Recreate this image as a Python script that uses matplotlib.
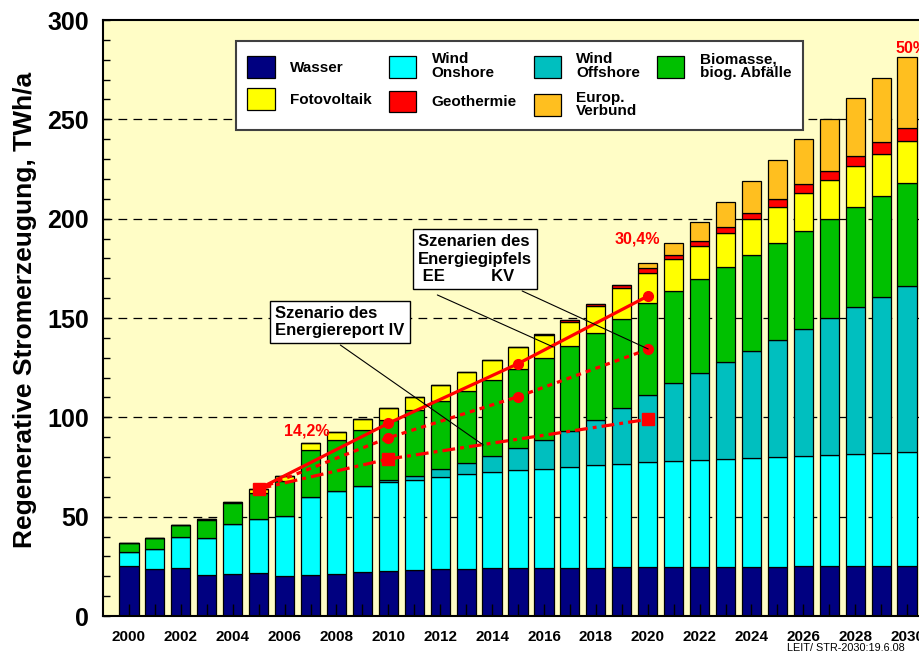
import numpy as np
import matplotlib
matplotlib.use('Agg')
from matplotlib import pyplot as plt
from matplotlib.ticker import MultipleLocator

plt.rcParams['font.family'] = ['Liberation Sans', 'DejaVu Sans']
plt.rcParams['font.weight'] = 'bold'

years = np.arange(2000, 2031)

# TWh/a per source (segment heights, stacked bottom to top)
wasser = [25.2, 23.5, 24.0, 20.6, 21.1, 21.8, 20.1, 20.8, 21.3, 22.1,
          22.6, 23.2, 23.5, 23.8, 24.0, 24.1, 24.2, 24.3, 24.4, 24.5,
          24.6, 24.7, 24.8, 24.8, 24.9, 24.9, 25.0, 25.0, 25.0, 25.1, 25.1]
onshore = [7.2, 10.4, 15.6, 18.7, 25.4, 26.9, 30.4, 39.2, 41.6, 43.2,
           44.8, 45.2, 46.6, 47.7, 48.5, 49.4, 49.8, 50.8, 51.6, 52.2,
           52.9, 53.5, 53.7, 54.2, 54.8, 55.3, 55.5, 56.0, 56.4, 56.8, 57.3]
offshore = [0, 0, 0, 0, 0, 0, 0, 0, 0, 0,
            1.0, 2.2, 3.7, 5.5, 8.2, 11.2, 14.6, 18.0, 22.6, 27.8,
            33.9, 38.9, 44.0, 48.8, 53.7, 58.7, 63.8, 69.0, 73.9, 78.8, 83.8]
biomasse = [4.2, 5.2, 6.0, 9.2, 10.5, 13.4, 17.4, 23.4, 25.5, 28.5,
            30.2, 33.1, 34.6, 36.4, 38.1, 39.6, 41.1, 42.6, 43.7, 45.0,
            46.0, 46.5, 47.1, 47.7, 48.3, 48.7, 49.3, 49.8, 50.4, 50.9, 51.6]
fotovoltaik = [0.0, 0.0, 0.1, 0.2, 0.5, 1.7, 2.4, 3.5, 4.4, 5.3,
               6.2, 6.7, 8.0, 9.4, 10.0, 10.9, 11.6, 12.4, 13.7, 15.7,
               15.4, 15.9, 16.6, 17.1, 17.9, 18.4, 19.1, 19.6, 20.6, 20.9, 21.4]
geothermie = [0, 0, 0, 0, 0, 0, 0, 0, 0, 0,
              0, 0, 0, 0, 0, 0.3, 0.6, 0.9, 1.2, 1.4,
              2.2, 2.2, 2.7, 3.0, 3.5, 3.9, 4.5, 4.7, 5.2, 5.9, 6.2]
verbund = [0, 0, 0, 0, 0, 0, 0, 0, 0, 0,
           0, 0, 0, 0, 0, 0, 0, 0, 0, 0,
           2.5, 6.2, 9.4, 12.8, 16.0, 19.4, 22.7, 26.2, 29.0, 32.5, 35.8]

series = [wasser, onshore, offshore, biomasse, fotovoltaik, geothermie, verbund]
labels = ['Wasser', 'Wind\nOnshore', 'Wind\nOffshore', 'Biomasse,\nbiog. Abfälle',
          'Fotovoltaik', 'Geothermie', 'Europ.\nVerbund']
colors = ['#000080', '#00FFFF', '#00BFBF', '#00C000', '#FFFF00', '#FF0000', '#FFBF1F']
# legend is filled column by column: Wasser/Fotovoltaik, Onshore/Geothermie, ...
legend_order = [0, 4, 1, 5, 2, 6, 3]

# scenario lines
ee_years = [2005, 2010, 2015, 2020]
ee_vals = [64, 97, 127, 161]
kv_years = [2005, 2010, 2015, 2020]
kv_vals = [64, 89.7, 110.4, 134.2]
er_years = [2005, 2010, 2020]
er_vals = [64, 79, 99]

fig = plt.figure(figsize=(9.2, 6.6), dpi=100)
ax = fig.add_axes([103/920, 44/660, 830/920, 596/660])
ax.set_facecolor('#FFFDC6')

bottom = np.zeros(len(years))
handles = []
for vals, lab, col in zip(series, labels, colors):
    vals = np.array(vals, dtype=float)
    b = ax.bar(years, vals, width=0.74, bottom=bottom, color=col,
               edgecolor='black', linewidth=0.9, label=lab, zorder=1)
    handles.append(b)
    bottom += vals

for g in [50, 100, 150, 200, 250]:
    ax.axhline(g, color='black', lw=0.9, dashes=(7, 5), zorder=0.5)

# scenario lines
ax.plot(ee_years, ee_vals, color='#FF0000', lw=2.3, marker='o', ms=7,
        markevery=[1, 2, 3], zorder=3)
ax.plot(kv_years, kv_vals, color='#FF0000', lw=2.3, ls=(0, (1.6, 1.6)), marker='o', ms=7,
        markevery=[1, 2, 3], zorder=3)
ax.plot(er_years, er_vals, color='#FF0000', lw=2.3, ls=(0, (4, 1.6, 1.2, 1.6)), marker='s', ms=8.5,
        zorder=3)

ax.set_xlim(1999, 2031)
ax.set_ylim(0, 300)
ax.yaxis.set_major_locator(MultipleLocator(50))
ax.yaxis.set_minor_locator(MultipleLocator(10))
ax.set_xticks(years)
ax.set_xticklabels([str(y) if y % 2 == 0 else '' for y in years])
ax.tick_params(axis='x', direction='in', length=9, width=1, pad=10, labelsize=11)
ax.tick_params(axis='y', which='both', direction='in', length=5, width=1, pad=10, labelsize=18)
for t in ax.get_xticklabels() + ax.get_yticklabels():
    t.set_fontweight('bold')
for s in ax.spines.values():
    s.set_linewidth(1.5)

ax.set_ylabel('Regenerative Stromerzeugung, TWh/a', fontsize=19, fontweight='bold')
ax.yaxis.set_label_coords(-0.079, 0.513)

leg = ax.legend(handles=[handles[i] for i in legend_order], ncol=4, loc='upper left',
                bbox_to_anchor=(236/920, 1 - 41/660), bbox_transform=fig.transFigure,
                borderaxespad=0, fancybox=False, framealpha=1, edgecolor='#404040',
                prop={'size': 11, 'weight': 'bold'}, handlelength=1.8, handleheight=1.8,
                handletextpad=1.0, columnspacing=1.1, labelspacing=0.7, borderpad=0.75)
leg.get_frame().set_linewidth(1.5)
leg.set_zorder(5)
for t in leg.get_texts():
    t.set_linespacing(0.95)

box = dict(boxstyle='square,pad=0.3', facecolor='white', edgecolor='black', lw=1)
ax.text(2005.65, 156.0, 'Szenario des\nEnergiereport IV', fontsize=12, fontweight='bold',
        ha='left', va='top', bbox=box, zorder=6)
ax.text(2011.15, 192.2, 'Szenarien des\nEnergiegipfels\n EE          KV', fontsize=12,
        fontweight='bold', ha='left', va='top', bbox=box, zorder=6)

lead = dict(arrowstyle='-', lw=0.8, color='black', shrinkA=0, shrinkB=0)
ax.annotate('', xy=(2013.66, 86.1), xytext=(2008.15, 136.4), arrowprops=lead, zorder=4)
ax.annotate('', xy=(2016.36, 135.4), xytext=(2011.89, 161.6), arrowprops=lead, zorder=4)
ax.annotate('', xy=(2020.02, 134.4), xytext=(2015.16, 163.6), arrowprops=lead, zorder=4)

ax.text(2006.85, 93.1, '14,2%', color='#FF0000', fontsize=11.5, fontweight='bold',
        ha='center', va='center', zorder=6)
ax.text(2019.6, 189.7, '30,4%', color='#FF0000', fontsize=11.5, fontweight='bold',
        ha='center', va='center', zorder=6)
ax.text(2029.54, 285.9, '50%', color='#FF0000', fontsize=11.5, fontweight='bold',
        ha='left', va='center', zorder=6)

fig.text(787/920, 1 - 648/660, 'LEIT/ STR-2030:19.6.08', fontsize=7.8, fontweight='normal',
         ha='left', va='center')

fig.savefig('out.png', dpi=100)
